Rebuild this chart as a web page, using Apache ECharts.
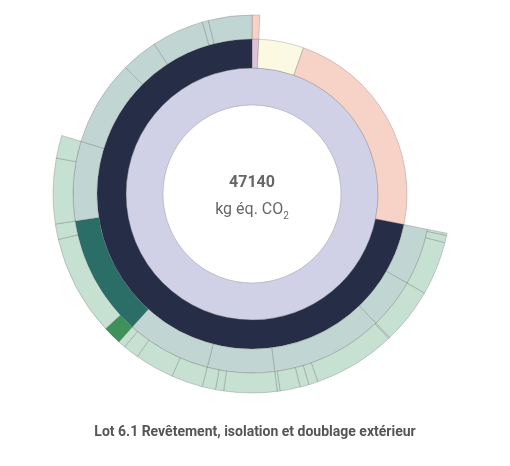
<!DOCTYPE html>
<html>
<head>
<meta charset="utf-8">
<script src="https://cdn.jsdelivr.net/npm/echarts@6/dist/echarts.min.js"></script>
<style>
  html, body { margin: 0; padding: 0; background: #fff; }
  #chart { width: 510px; height: 466px; }
</style>
</head>
<body>
<div id="chart"></div>
<script>
// valeurs du lot (kg éq. CO2)
const lotName = 'Lot 6.1 Revêtement, isolation et doublage extérieur';
const lotTotal = 47140;
const unitText = 'kg éq. CO';

// niveau 2, dans le sens horaire depuis midi
const groupNames = ['Groupe 1', 'Groupe 2', 'Groupe 3', 'Groupe 4'];
const groupValues = [327, 2213, 10737, null]; // le dernier = somme de ses enfants
const group1Children = [327];

// enfants du groupe 4 (niveau 3) ; tableau = feuilles du niveau 4
const subNames = ['4.1', '4.2', '4.3', '4.4', '4.5', '4.6', '4.7', '4.8', '4.9', '4.10', '4.11', '4.12'];
const subValues = [
    [92, 275, 2056],
    [2134],
    [52, 3156, 354, 340, 773, 105],
    [2030, 314, 511],
    [1205, 1506, 602, 288],
    [707, 3850, 589],
    [2501, 877],
    3653,
    1558,
    2226,
    262,
    1847
];

const groupColors = ['#dcc3d9', '#fcf9e2', '#f7d2c6', '#252d47'];
const lotColor = '#d0d1e6';
const subColor = '#c1d5d3', subAccent = '#2b6e67';
const leafColor = '#c6e0d2', leafAccent = '#3e9159';
const accentIndex = 5;

const chart = echarts.init(document.getElementById('chart'));

const group4Children = subValues.map((vals, i) => {
    const node = { name: subNames[i], itemStyle: { color: i === accentIndex ? subAccent : subColor } };
    if (Array.isArray(vals)) {
        node.children = vals.map((v, j) => ({
            name: subNames[i] + '.' + (j + 1),
            value: v,
            itemStyle: { color: (i === accentIndex && j === 0) ? leafAccent : leafColor }
        }));
    } else {
        node.value = vals;
    }
    return node;
});

const groups = groupNames.map((n, i) => {
    const node = { name: n, itemStyle: { color: groupColors[i] } };
    if (i === 0) {
        node.value = groupValues[i];
        node.children = group1Children.map((v, j) => ({ name: n + '.' + (j + 1), value: v, itemStyle: { color: '#f7d2c6' } }));
    } else if (i === 3) {
        node.children = group4Children;
    } else {
        node.value = groupValues[i];
    }
    return node;
});

const border = { borderColor: 'rgba(90,90,90,0.45)', borderWidth: 0.6 };

chart.setOption({
    animation: false,
    series: [{
        type: 'sunburst',
        center: [252, 194],
        radius: [89, 199],
        sort: null,
        startAngle: 90,
        clockwise: true,
        nodeClick: false,
        label: { show: false },
        itemStyle: border,
        emphasis: { disabled: true },
        levels: [
            {},
            { r0: 89, r: 126, itemStyle: border },
            { r0: 126, r: 155, itemStyle: border },
            { r0: 155, r: 179, itemStyle: border },
            { r0: 179, r: 199, itemStyle: border }
        ],
        data: [{
            name: lotName,
            value: lotTotal,
            itemStyle: { color: lotColor },
            children: groups
        }]
    }],
    graphic: [
        {
            type: 'text', x: 252, y: 183,
            style: {
                text: String(lotTotal), font: 'bold 16px Roboto', fill: '#666',
                textAlign: 'center', textVerticalAlign: 'middle'
            }
        },
        {
            type: 'text', x: 252, y: 210,
            style: {
                text: '{u|' + unitText + '}{s|2}',
                textAlign: 'center', textVerticalAlign: 'middle',
                rich: {
                    u: { font: '16px Roboto', fill: '#666', lineHeight: 16, verticalAlign: 'top' },
                    s: { font: '10px Roboto', fill: '#666', lineHeight: 10, verticalAlign: 'top', padding: [9, 0, 0, 0] }
                }
            }
        },
        {
            type: 'text', x: 255, y: 432,
            style: {
                text: lotName, font: 'bold 14px Roboto', fill: '#555',
                textAlign: 'center', textVerticalAlign: 'middle'
            }
        }
    ]
});
</script>
</body>
</html>
